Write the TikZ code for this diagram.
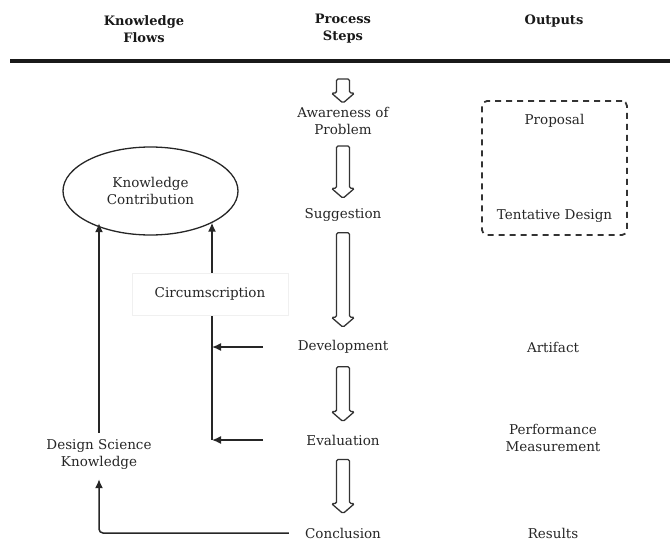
\documentclass[tikz,border=0pt]{standalone}
\usepackage{fontspec}
\setmainfont{DejaVu Serif}
\usetikzlibrary{shapes.geometric,arrows.meta,calc}
\tikzset{
    col-title/.style = {font=\bfseries\fontsize{13}{17}\selectfont, align=center, text=black!90, inner sep=2pt},
    step-label/.style = {font=\fontsize{13.5}{17}\selectfont, align=center, text=black!85, inner sep=2pt},
    step-arrow/.style = {draw=black!80, line width=1.3pt, fill=white, rounded corners=1.5pt},
    flow-arrow/.style = {draw=black!85, line width=1.5pt, -{Latex[length=9pt,width=8pt]}},
    kc-ellipse/.style = {draw=black!85, ellipse, line width=1.3pt, minimum width=175pt, minimum height=88pt, inner sep=0pt},
    outputs-box/.style = {draw=black!80, dash pattern=on 6pt off 5pt, line width=1.8pt, rounded corners=5pt, minimum width=145pt, minimum height=134pt},
    circ-box/.style = {fill=white, draw=black!6, minimum width=156pt, minimum height=42pt},
}
% hollow block arrow pointing down, from #1 (top) to #2 (tip)
\newcommand{\stepflow}[2]{%
    \draw[step-arrow] let \p1 = #1, \p2 = #2 in
        (\x1-6.5pt,\y1) -- (\x1-6.5pt,\y2+10pt) -- (\x1-11.5pt,\y2+10pt) -- (\x1,\y2)
        -- (\x1+11.5pt,\y2+10pt) -- (\x1+6.5pt,\y2+10pt) -- (\x1+6.5pt,\y1) -- cycle;}

\begin{document}
\begin{tikzpicture}[x=1pt, y=-1pt]
\useasboundingbox (0,0) rectangle (670,544);

% column titles
\node[col-title] (kf) at (144,29) {Knowledge\\Flows};
\node[col-title] (ps) at (343,29) {Process\\Steps};
\node[col-title] (out) at (554,21) {Outputs};
\draw[line width=4pt, black!90] (10,61) -- (670,61);

% process steps
\coordinate (start) at (343,79);
\node[step-label] (aw) at (343,121) {Awareness of\\Problem};
\node[step-label] (sg) at (343,215) {Suggestion};
\node[step-label] (dev) at (343,347) {Development};
\node[step-label] (ev) at (343,440) {Evaluation};
\node[step-label] (con) at (343,533) {Conclusion};

\stepflow{(start)}{([yshift=2pt]aw.north)}
\stepflow{([yshift=-9pt]aw.south)}{([yshift=8pt]sg.north)}
\stepflow{([yshift=-9pt]sg.south)}{([yshift=11pt]dev.north)}
\stepflow{([yshift=-11pt]dev.south)}{([yshift=11pt]ev.north)}
\stepflow{([yshift=-12pt]ev.south)}{([yshift=12pt]con.north)}

% outputs
\node[outputs-box] (tb) at (554.5,168) {};
\node[step-label] (prop) at ([yshift=-21pt]tb.north) {Proposal};
\node[step-label] (td) at ([yshift=20pt]tb.south) {Tentative Design};
\node[step-label] (art) at (553,347) {Artifact};
\node[step-label] (pm) at (553,438) {Performance\\Measurement};
\node[step-label] (res) at (553,533) {Results};

% knowledge flows
\node[kc-ellipse, step-label] (kc) at (150.5,191) {Knowledge\\Contribution};
\node[step-label] (dsk) at (99,454) {Design Science\\Knowledge};
\coordinate (fb) at (212,0);
\coordinate (fb-in) at (263,0);
\coordinate (fb-dev) at (dev.west -| fb);
\coordinate (fb-ev) at (ev.west -| fb);

\draw[flow-arrow] ([yshift=4pt]dsk.north) -- ([yshift=4pt]dsk.north |- kc.215);
\draw[flow-arrow] (fb-ev) -- (fb-ev |- kc.333);
\draw[flow-arrow] (dev.west -| fb-in) -- (fb-dev);
\draw[flow-arrow] (ev.west -| fb-in) -- (fb-ev);
\draw[flow-arrow, rounded corners=4pt] ([xshift=-14pt]con.west) -| ([yshift=-8pt]dsk.south);
\node[circ-box, step-label] (circ) at (210,294) {Circumscription};
\end{tikzpicture}
\end{document}
